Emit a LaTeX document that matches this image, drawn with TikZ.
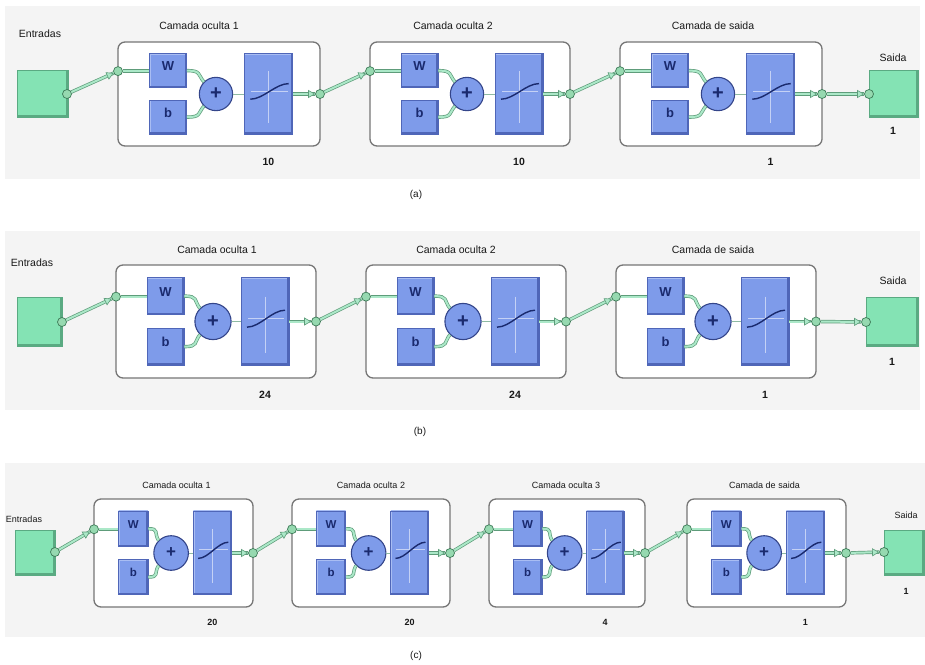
\documentclass[tikz,border=0pt]{standalone}
\usepackage{fontspec}
\setmainfont{Liberation Sans}
\usetikzlibrary{fit,arrows.meta,decorations.markings,calc}
\definecolor{mint}{HTML}{ABE8C8}
\definecolor{wiredark}{HTML}{5E9C7A}
\definecolor{portfill}{HTML}{96D9B0}
\definecolor{portedge}{HTML}{3C7A57}
\definecolor{greenfill}{HTML}{84E3B4}
\definecolor{greenedge}{HTML}{5AAA82}
\definecolor{bluefill}{HTML}{7E9BEA}
\definecolor{blueedge}{HTML}{4F66B8}
\definecolor{bluelight}{HTML}{A9BDF3}
\definecolor{plusedge}{HTML}{34458A}
\definecolor{navy}{HTML}{1A2A6E}
\definecolor{panelgray}{HTML}{F4F4F4}
\definecolor{boxgray}{HTML}{767676}
\def\ttlsize{10.5}\def\wsize{13}\def\psize{20}\def\ttlgap{12}\def\cntgap{19}\def\ttldx{0}
\tikzset{
 panel/.style={fill=panelgray, draw=none},
 layerbox/.style={draw=boxgray, line width=1.3pt, rounded corners=7pt, fill=white, inner sep=0pt},
 bevel/.style={path picture={
   \draw[bluelight, line width=2.4pt] (path picture bounding box.south west) -- (path picture bounding box.north west) -- (path picture bounding box.north east);
   \draw[blueedge, line width=3.2pt] (path picture bounding box.south west) -- (path picture bounding box.south east) -- (path picture bounding box.north east);}},
 wbox/.style={fill=bluefill, draw=blueedge, line width=0.6pt, inner sep=0pt, bevel, text=navy, font=\fontsize{\wsize}{\wsize}\selectfont\bfseries},
 tfbox/.style={fill=bluefill, draw=blueedge, line width=0.6pt, inner sep=0pt, bevel},
 plusnode/.style={circle, fill=bluefill, draw=plusedge, line width=1.1pt, inner sep=0pt, text=navy, font=\fontsize{\psize}{\psize}\selectfont\bfseries},
 port/.style={circle, fill=portfill, draw=portedge, line width=0.7pt, minimum size=9pt, inner sep=0pt},
 greenbox/.style={fill=greenfill, draw=greenedge, line width=0.6pt, inner sep=0pt, path picture={
   \draw[greenedge, line width=3.2pt] (path picture bounding box.south west) -- (path picture bounding box.south east) -- (path picture bounding box.north east);}},
 wire/.style={draw=wiredark, line width=3.4pt, postaction={draw=mint, line width=2pt}},
 thinwire/.style={draw=wiredark!70, line width=1pt},
 wirearrow/.style={wire, postaction={decorate, decoration={markings, mark=at position 1 with {\arrow[wiredark]{Triangle[length=7pt,width=8pt,fill=mint,line width=0.6pt]}}}}},
 axisline/.style={draw=white, opacity=0.55, line width=0.6pt},
 tfcurve/.style={draw=navy, line width=1.4pt},
 ttl/.style={font=\fontsize{\ttlsize}{\ttlsize}\selectfont, text=black!90, inner sep=0pt},
 cnt/.style={font=\fontsize{\ttlsize}{\ttlsize}\selectfont\bfseries, text=black!90, inner sep=0pt},
 captxt/.style={font=\fontsize{10}{11}\selectfont, text=black!90, inner sep=0pt},
}
\newcommand\camada[7]{%
 \begin{scope}[shift={(#2,#3)}, x=#4pt, y=-#5pt]
  \node[layerbox, fit={(0,0) (1,1)}] (#1) {};
  \node[wbox, fit={(0.155,0.11) (0.34,0.44)}] (#1w) {W};
  \node[wbox, fit={(0.155,0.56) (0.34,0.885)}] (#1b) {b};
  \node[tfbox, fit={(0.625,0.11) (0.865,0.885)}] (#1t) {};
  \pgfmathsetmacro\pdiam{0.32*#5}
  \node[plusnode, minimum size=\pdiam pt] (#1p) at (0.485,0.5) {+};
  \draw[axisline] (0.745,0.28) -- (0.745,0.78) (0.66,0.47) -- (0.84,0.47);
  \draw[tfcurve] (0.655,0.55) .. controls (0.72,0.55) and (0.78,0.40) .. (0.845,0.40);
  \node[port] (#1in) at (0,0.28) {};
  \node[port] (#1out) at (1,0.5) {};
  \draw[wire] (#1in) -- (#1in -| #1w.west);
  \draw[wire] (#1w.east) .. controls +(0.07,0) and +(-0.03,-0.07) .. (#1p.135);
  \draw[wire] (#1b.east) .. controls +(0.07,0) and +(-0.03,0.07) .. (#1p.225);
  \draw[thinwire] (#1p) -- (#1p -| #1t.west);
  \draw[wirearrow] (#1t.east |- #1out) -- (#1out);
  \node[ttl, anchor=base] (#1ttl) at ([xshift=\ttldx pt, yshift=\ttlgap pt]#1.north) {#6};
  \node[cnt, anchor=base] (#1cnt) at ([yshift=-\cntgap pt]#1.south -| #1t) {#7};
 \end{scope}}
\begin{document}
\begin{tikzpicture}[x=1pt,y=-1pt]
\useasboundingbox[fill=white] (0,0) rectangle (925,664);
% panels
\fill[panel] (5,6) rectangle (920,179);
\fill[panel] (5,231) rectangle (920,410);
\fill[panel] (5,463) rectangle (925,637);

% ---------------- (a)
\def\ttlsize{10.5}\def\wsize{13}\def\psize{20}\def\ttlgap{12}\def\cntgap{19}
\node[greenbox, fit={(17,70) (68,117)}] (ea) {};
\node[ttl, anchor=base] (eal) at (40,37) {Entradas};
\node[port] (eaout) at (67,94) {};
\def\ttldx{-20}\camada{aA}{118}{42}{202}{104}{Camada oculta 1}{10}
\def\ttldx{-17}\camada{aB}{370}{42}{200}{104}{Camada oculta 2}{10}
\def\ttldx{-8}\camada{aC}{620}{42}{202}{104}{Camada de saida}{1}
\node[greenbox, fit={(869,70) (918,117)}] (sa) {};
\node[ttl, anchor=base] (sal) at (893,61) {Saida};
\node[cnt, anchor=base] (san) at (893,134) {1};
\node[port] (sain) at (869,94) {};
\draw[wirearrow] (eaout) -- (aAin);
\draw[wirearrow] (aAout) -- (aBin);
\draw[wirearrow] (aBout) -- (aCin);
\draw[wirearrow] (aCout) -- (sain);
\node[captxt] (capa) at (416,195) {(a)};

% ---------------- (b)
\def\ttlsize{10.5}\def\wsize{13}\def\psize{20}\def\ttlgap{11}\def\cntgap{20}
\node[greenbox, fit={(17,297) (62,346)}] (eb) {};
\node[ttl, anchor=base] (ebl) at (32,266) {Entradas};
\node[port] (ebout) at (62,322) {};
\def\ttldx{1}\camada{bA}{116}{265}{200}{113}{Camada oculta 1}{24}
\def\ttldx{-10}\camada{bB}{366}{265}{200}{113}{Camada oculta 2}{24}
\def\ttldx{-3}\camada{bC}{616}{265}{200}{113}{Camada de saida}{1}
\node[greenbox, fit={(866,297) (918,346)}] (sb) {};
\node[ttl, anchor=base] (sbl) at (893,284) {Saida};
\node[cnt, anchor=base] (sbn) at (892,365) {1};
\node[port] (sbin) at (866,322) {};
\draw[wirearrow] (ebout) -- (bAin);
\draw[wirearrow] (bAout) -- (bBin);
\draw[wirearrow] (bBout) -- (bCin);
\draw[wirearrow] (bCout) -- (sbin);
\node[captxt] (capb) at (420,432) {(b)};

% ---------------- (c)
\def\ttlsize{9}\def\wsize{11.5}\def\psize{17}\def\ttlgap{10}\def\cntgap{18}
\node[greenbox, fit={(15,530) (55,575)}] (ec) {};
\node[ttl, anchor=base] (ecl) at (24,522) {Entradas};
\node[port] (ecout) at (55,552) {};
\def\ttldx{3}\camada{cA}{94}{499}{159}{108}{Camada oculta 1}{20}
\def\ttldx{0}\camada{cB}{292}{499}{158}{108}{Camada oculta 2}{20}
\def\ttldx{-1}\camada{cC}{489}{499}{156}{108}{Camada oculta 3}{4}
\def\ttldx{-2}\camada{cD}{687}{499}{159}{108}{Camada de saida}{1}
\node[greenbox, fit={(884,530) (924,575)}] (sc) {};
\node[ttl, anchor=base] (scl) at (906,518) {Saida};
\node[cnt, anchor=base] (scn) at (906,594) {1};
\node[port] (scin) at (884,552) {};
\draw[wirearrow] (ecout) -- (cAin);
\draw[wirearrow] (cAout) -- (cBin);
\draw[wirearrow] (cBout) -- (cCin);
\draw[wirearrow] (cCout) -- (cDin);
\draw[wirearrow] (cDout) -- (scin);
\node[captxt] (capc) at (416,656) {(c)};
\end{tikzpicture}
\end{document}
